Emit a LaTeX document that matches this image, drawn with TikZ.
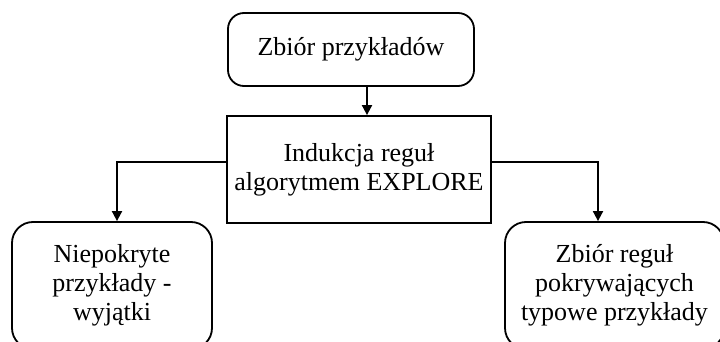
\documentclass[tikz,border=0pt]{standalone}
\usepackage{fontspec}
\setmainfont{Liberation Serif}
\usetikzlibrary{arrows.meta,positioning}
\tikzset{
  bx/.style={draw, line width=1.8pt, align=center, font=\fontsize{26}{29}\selectfont, inner sep=2pt},
  rnd/.style={bx, rounded corners=16pt},
  rnd2/.style={bx, rounded corners=21pt},
  arr/.style={-{Triangle[length=10pt,width=10pt]}, line width=1.8pt},
}
\begin{document}
\begin{tikzpicture}[x=1pt,y=-1pt]
  \useasboundingbox (0,0) rectangle (720,342);
  \clip (0,0) rectangle (720,342);
  % input and the induction step
  \node[rnd, minimum width=246pt, minimum height=73pt] (set) at (351,49.5) {Zbiór przykładów};
  \node[bx, minimum width=264pt, minimum height=107pt] (ind) at (359,169.5) {Indukcja reguł\\algorytmem EXPLORE};
  % the two outputs, running off the page edge
  \node[rnd2, minimum width=200pt, minimum height=127pt] (exc) at (112,285.5) {Niepokryte\\przykłady -\\wyjątki};
  \node[rnd2, minimum width=219pt, minimum height=127pt] (rules) at (614.5,285.5) {Zbiór reguł\\pokrywających\\typowe przykłady};
  \draw[arr] ([xshift=16pt]set.south) -- ([xshift=16pt]set.south |- ind.north);
  \draw[arr] ([yshift=7.5pt]ind.west) -| ([xshift=5pt]exc.north);
  \draw[arr] ([yshift=7.5pt]ind.east) -| ([xshift=-16.5pt]rules.north);
\end{tikzpicture}
\end{document}
